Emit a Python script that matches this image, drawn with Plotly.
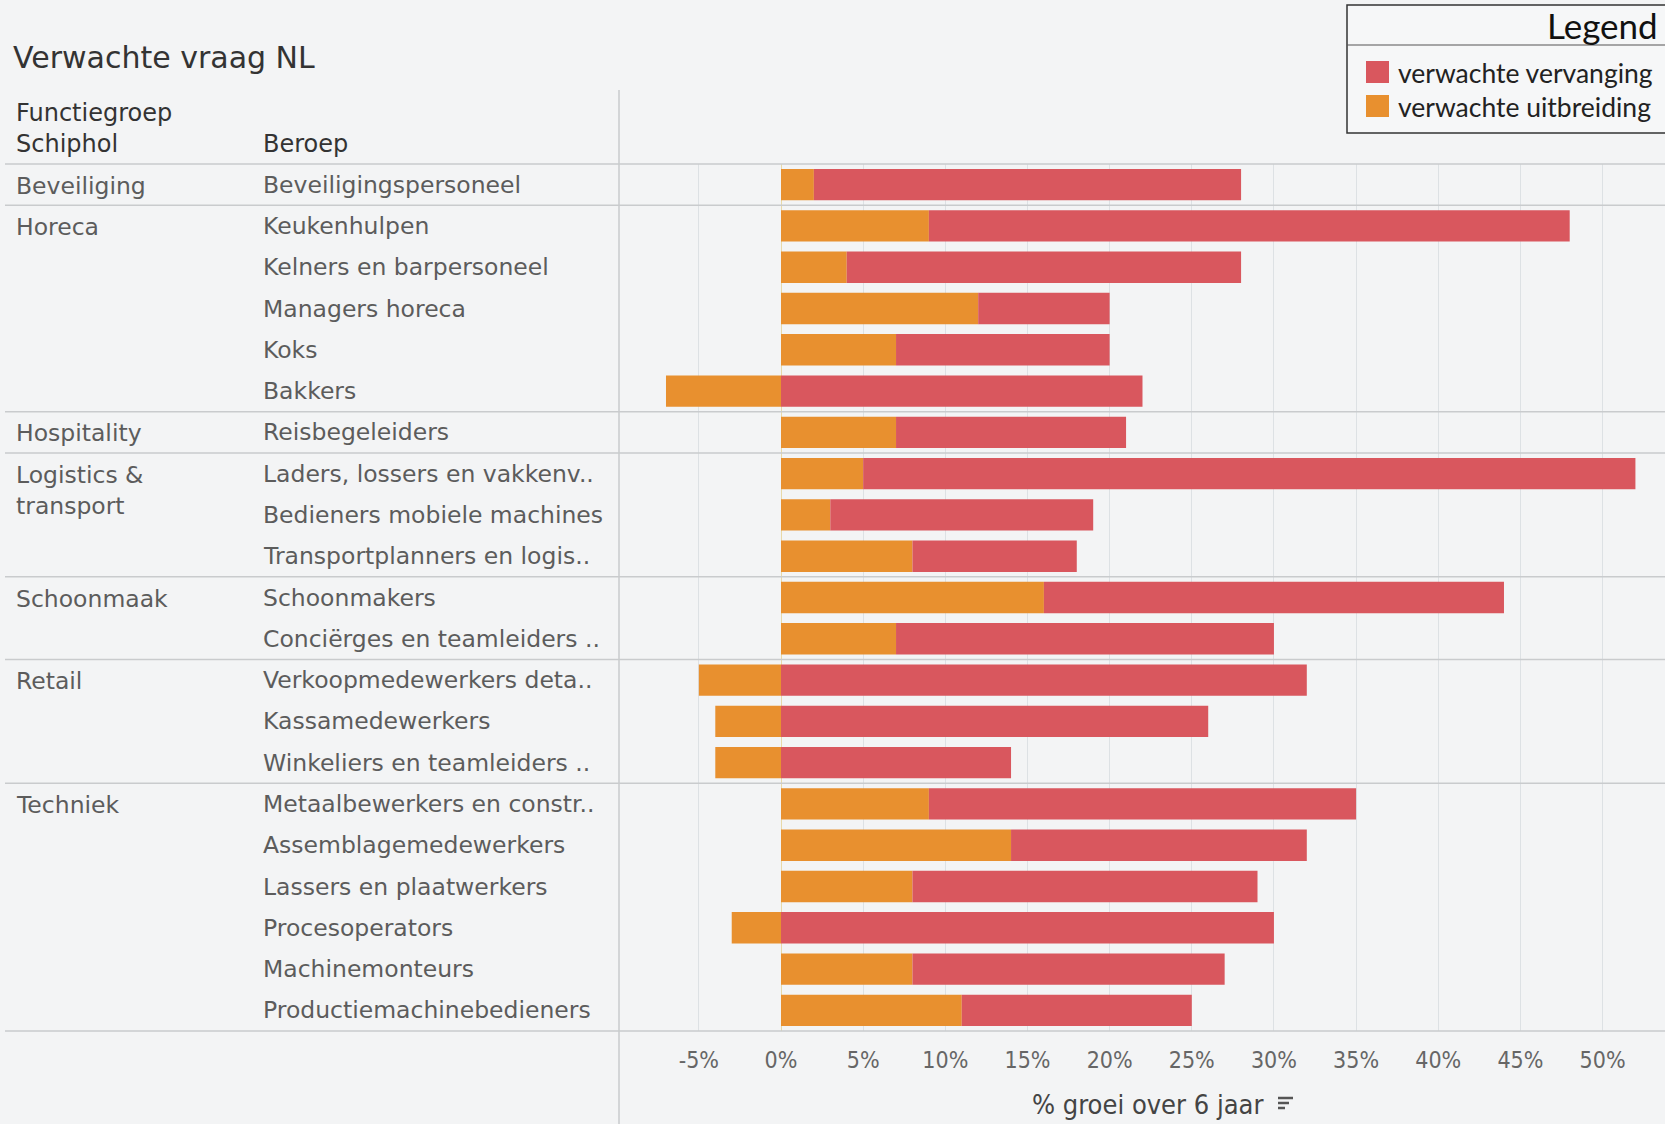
import plotly.graph_objects as go

# ---- data ----
groups = ["Beveiliging", "Horeca", "Hospitality", "Logistics &amp;<br>transport",
          "Schoonmaak", "Retail", "Techniek"]
group_sizes = [1, 5, 1, 3, 2, 3, 6]
beroepen = [
    "Beveiligingspersoneel",
    "Keukenhulpen", "Kelners en barpersoneel", "Managers horeca", "Koks", "Bakkers",
    "Reisbegeleiders",
    "Laders, lossers en vakkenv..", "Bedieners mobiele machines", "Transportplanners en logis..",
    "Schoonmakers", "Conciërges en teamleiders ..",
    "Verkoopmedewerkers deta..", "Kassamedewerkers", "Winkeliers en teamleiders ..",
    "Metaalbewerkers en constr..", "Assemblagemedewerkers", "Lassers en plaatwerkers",
    "Procesoperators", "Machinemonteurs", "Productiemachinebedieners",
]
uitbreiding = [2, 9, 4, 12, 7, -7, 7, 5, 3, 8, 16, 7, -5, -4, -4, 9, 14, 8, -3, 8, 11]
vervanging = [26, 39, 24, 8, 13, 22, 14, 47, 16, 10, 28, 23, 32, 26, 14, 26, 18, 21, 30, 19, 14]
tick_values = [-5, 0, 5, 10, 15, 20, 25, 30, 35, 40, 45, 50]
tick_labels = ["-5%", "0%", "5%", "10%", "15%", "20%", "25%", "30%", "35%", "40%", "45%", "50%"]

RED = "#d9575e"
ORANGE = "#e8902f"
FONT = "DejaVu Sans, Open Sans, sans-serif"
NARROW = "Liberation Sans Narrow, DejaVu Sans Condensed, Roboto, sans-serif"
LEGFONT = "Lato, Open Sans, sans-serif"
W, H = 1665, 1124
L, R, T, B = 619, 0, 164, 93
PW, PH = W - L - R, H - T - B

def px_x(x):
    return (x - L) / PW

def px_y(y):
    return (H - B - y) / PH

fig = go.Figure()
fig.add_trace(go.Bar(y=beroepen, x=uitbreiding, orientation="h", name="verwachte uitbreiding",
                     marker=dict(color=ORANGE, line=dict(width=0)), showlegend=False))
fig.add_trace(go.Bar(y=beroepen, x=vervanging, orientation="h", name="verwachte vervanging",
                     marker=dict(color=RED, line=dict(width=0)), showlegend=False))

shapes = []
annotations = []
LINE = "#c9cbcd"
TXT = "#5c5c5c"
# header line, bottom line
for yp in [1, 0]:
    shapes.append(dict(type="line", xref="paper", yref="paper", x0=px_x(5), x1=1,
                       y0=yp, y1=yp, line=dict(color=LINE, width=1.5)))
# group separators and group labels
start = 0
for g, n in zip(groups, group_sizes):
    annotations.append(dict(text=g, xref="paper", yref="y", x=px_x(14), y=beroepen[start],
                            xanchor="left", yanchor="top", yshift=15, showarrow=False, align="left",
                            font=dict(family=FONT, size=23.5, color=TXT)))
    end = start + n
    if end < len(beroepen):
        shapes.append(dict(type="line", xref="paper", yref="y", x0=px_x(5), x1=1,
                           y0=end - 0.5, y1=end - 0.5, line=dict(color=LINE, width=1.5)))
    start = end
# beroep labels
for b in beroepen:
    annotations.append(dict(text=b, xref="paper", yref="y", x=px_x(261), y=b,
                            xanchor="left", yanchor="middle", showarrow=False,
                            font=dict(family=FONT, size=23.5, color=TXT)))
# vertical divider
shapes.append(dict(type="line", xref="paper", yref="paper", x0=0, x1=0,
                   y0=px_y(H), y1=px_y(90), line=dict(color=LINE, width=1.5)))

# headers and title
annotations += [
    dict(text="Verwachte vraag NL", xref="paper", yref="paper", x=px_x(11), y=px_y(57),
         xanchor="left", yanchor="middle", showarrow=False,
         font=dict(family=FONT, size=30, color="#333333")),
    dict(text="Functiegroep<br>Schiphol", xref="paper", yref="paper", x=px_x(14), y=px_y(160),
         xanchor="left", yanchor="bottom", showarrow=False, align="left",
         font=dict(family=FONT, size=24, color="#333333")),
    dict(text="Beroep", xref="paper", yref="paper", x=px_x(261), y=px_y(160),
         xanchor="left", yanchor="bottom", showarrow=False,
         font=dict(family=FONT, size=24, color="#333333")),
    dict(text="% groei over 6 jaar", xref="paper", yref="paper", x=px_x(1265), y=px_y(1104),
         xanchor="right", yanchor="middle", showarrow=False,
         font=dict(family=NARROW, size=27, color="#444444")),
]
# sort icon
for i, ln in enumerate([15, 11, 7]):
    yy = 1098 + i * 5
    shapes.append(dict(type="line", xref="paper", yref="paper", x0=px_x(1278), x1=px_x(1278 + ln),
                       y0=px_y(yy), y1=px_y(yy), line=dict(color="#555555", width=2.5)))

# legend box
shapes += [
    dict(type="rect", xref="paper", yref="paper", x0=px_x(1347), x1=px_x(1680),
         y0=px_y(133), y1=px_y(5), line=dict(color="#333333", width=1.5), fillcolor="#f6f7f8"),
    dict(type="line", xref="paper", yref="paper", x0=px_x(1347), x1=px_x(1680),
         y0=px_y(45), y1=px_y(45), line=dict(color="#555555", width=1.2)),
    dict(type="rect", xref="paper", yref="paper", x0=px_x(1366), x1=px_x(1389),
         y0=px_y(83), y1=px_y(61), line=dict(width=0), fillcolor=RED),
    dict(type="rect", xref="paper", yref="paper", x0=px_x(1366), x1=px_x(1389),
         y0=px_y(117), y1=px_y(95), line=dict(width=0), fillcolor=ORANGE),
]
annotations += [
    dict(text="Legend", xref="paper", yref="paper", x=px_x(1545), y=px_y(25),
         xanchor="left", yanchor="middle", showarrow=False,
         font=dict(family=LEGFONT, size=35, color="#111111")),
    dict(text="verwachte vervanging", xref="paper", yref="paper", x=px_x(1396), y=px_y(73),
         xanchor="left", yanchor="middle", showarrow=False,
         font=dict(family=LEGFONT, size=26.5, color="#222222")),
    dict(text="verwachte uitbreiding", xref="paper", yref="paper", x=px_x(1396), y=px_y(107),
         xanchor="left", yanchor="middle", showarrow=False,
         font=dict(family=LEGFONT, size=26.5, color="#222222")),
]

fig.update_layout(
    width=W, height=H,
    margin=dict(l=L, r=R, t=T, b=B, pad=0),
    barmode="relative", bargap=0.24,
    paper_bgcolor="#f3f4f5", plot_bgcolor="rgba(0,0,0,0)",
    shapes=shapes, annotations=annotations,
    xaxis=dict(range=[-9.86, 53.8], tickvals=tick_values, ticktext=tick_labels,
               showgrid=True, gridcolor="#dde1e4", gridwidth=1, zeroline=True,
               zerolinecolor="#e8d9a8", zerolinewidth=1,
               ticks="outside", ticklen=8, tickcolor="rgba(0,0,0,0)",
               tickfont=dict(family=NARROW, size=23, color="#666666"), fixedrange=True),
    yaxis=dict(categoryorder="array", categoryarray=beroepen, autorange="reversed",
               showticklabels=False, showgrid=False, zeroline=False, fixedrange=True),
    font=dict(family=FONT),
)

fig.write_html("out.html", config={"displayModeBar": False},
               post_script="document.body.style.margin='0';document.body.style.overflow='hidden';")
